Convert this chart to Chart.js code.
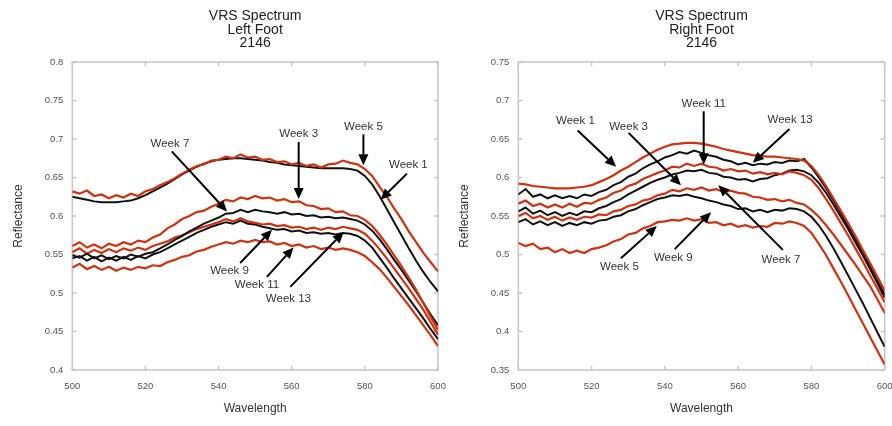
<!DOCTYPE html>
<html>
<head>
<meta charset="utf-8">
<script src="https://cdn.jsdelivr.net/npm/chart.js@4.4.0/dist/chart.umd.min.js"></script>
<style>
  html, body { margin: 0; padding: 0; background: #fff; }
  #wrap { position: relative; width: 892px; height: 426px; }
  .panel { position: absolute; top: 0; width: 446px; height: 426px; }
  #left { left: 0; }
  #right { left: 446px; }
</style>
</head>
<body>
<div id="wrap">
  <div class="panel" id="left"><canvas id="leftChart" width="446" height="426"></canvas></div>
  <div class="panel" id="right"><canvas id="rightChart" width="446" height="426"></canvas></div>
</div>
<script>
// wavelength grid (nm), shared by every spectrum
const wavelengths = [500, 502, 504, 506, 508, 510, 512, 514, 516, 518, 520, 522, 524, 526, 528, 530, 532, 534, 536, 538,
  540, 542, 544, 546, 548, 550, 552, 554, 556, 558, 560, 562, 564, 566, 568, 570, 572, 574, 576, 578,
  580, 582, 584, 586, 588, 590, 592, 594, 596, 598, 600];

const xTicks = [500, 520, 540, 560, 580, 600];
const leftYTicks = [0.4, 0.45, 0.5, 0.55, 0.6, 0.65, 0.7, 0.75, 0.8];
const rightYTicks = [0.35, 0.4, 0.45, 0.5, 0.55, 0.6, 0.65, 0.7, 0.75];

// left foot reflectance
const leftWeek1 = [.625, .623, .621, .619, .618, .618, .618, .619, .620, .623, .627, .632, .637, .642, .648, .654, .659, .664, .668, .671,
  .673, .674, .675, .675, .674, .673, .672, .670, .669, .667, .666, .665, .664, .663, .662, .662, .662, .662, .661, .659,
  .652, .641, .626, .609, .592, .575, .558, .542, .527, .514, .502];
const leftWeek5 = [.632, .629, .633, .626, .628, .623, .627, .624, .629, .626, .632, .635, .640, .644, .649, .655, .660, .665, .667, .672,
  .673, .677, .675, .680, .676, .677, .673, .674, .670, .671, .667, .669, .665, .667, .663, .667, .668, .672, .669, .667,
  .661, .652, .638, .625, .610, .596, .580, .566, .552, .540, .528];
const leftWeek3 = [.561, .566, .559, .563, .558, .564, .561, .566, .563, .568, .566, .572, .576, .584, .589, .596, .600, .605, .607, .612,
  .616, .621, .619, .624, .622, .626, .623, .624, .620, .622, .618, .619, .614, .613, .609, .610, .605, .606, .601, .600,
  .595, .587, .576, .563, .549, .535, .520, .504, .487, .469, .452];
const leftWeek7 = [.549, .546, .551, .545, .549, .544, .548, .545, .550, .547, .551, .553, .558, .563, .569, .574, .580, .585, .590, .594,
  .598, .603, .604, .608, .605, .608, .606, .605, .603, .605, .602, .603, .600, .601, .598, .599, .597, .598, .596, .594,
  .589, .581, .570, .557, .543, .530, .516, .502, .487, .472, .458];
const leftWeek9 = [.545, .548, .542, .547, .541, .546, .542, .547, .543, .548, .545, .550, .553, .558, .563, .568, .573, .578, .582, .586,
  .589, .592, .590, .594, .590, .589, .586, .584, .582, .583, .580, .581, .578, .579, .577, .578, .576, .578, .577, .574,
  .568, .559, .546, .533, .519, .506, .493, .480, .467, .453, .440];
const leftWeek13 = [.553, .558, .551, .556, .552, .557, .553, .558, .555, .559, .556, .561, .564, .567, .572, .575, .579, .583, .586, .589,
  .592, .596, .593, .597, .593, .591, .589, .590, .587, .588, .585, .586, .583, .585, .582, .585, .583, .586, .584, .582,
  .577, .568, .557, .545, .532, .519, .506, .492, .478, .462, .446];
const leftWeek11 = [.533, .538, .531, .535, .530, .534, .529, .533, .530, .534, .532, .536, .535, .540, .543, .547, .549, .554, .556, .560,
  .563, .566, .564, .568, .566, .569, .566, .567, .563, .565, .561, .563, .559, .561, .557, .559, .556, .558, .556, .553,
  .548, .540, .531, .520, .508, .496, .484, .471, .458, .445, .431];

// right foot reflectance
const rightWeek1 = [.592, .591, .589, .588, .587, .586, .586, .586, .587, .588, .590, .594, .598, .603, .609, .614, .620, .626, .631, .636,
  .640, .643, .644, .645, .645, .644, .642, .640, .637, .635, .633, .631, .629, .628, .627, .627, .626, .625, .624, .622,
  .615, .603, .589, .573, .557, .541, .524, .506, .489, .471, .453];
const rightWeek13 = [.578, .585, .575, .578, .573, .577, .573, .576, .573, .578, .576, .581, .584, .590, .594, .601, .605, .612, .617, .621,
  .626, .629, .633, .631, .635, .632, .629, .627, .623, .621, .617, .619, .616, .618, .617, .620, .619, .622, .621, .624,
  .613, .600, .586, .570, .554, .537, .520, .503, .484, .466, .448];
const rightWeek11 = [.566, .570, .563, .566, .561, .565, .561, .566, .562, .567, .566, .571, .574, .580, .583, .589, .592, .598, .602, .606,
  .609, .614, .613, .618, .615, .618, .614, .613, .609, .611, .608, .609, .605, .607, .604, .606, .604, .608, .606, .603,
  .597, .586, .572, .557, .541, .525, .508, .491, .473, .456, .438];
const rightWeek7 = [.556, .561, .553, .557, .551, .555, .550, .554, .551, .556, .555, .560, .563, .568, .572, .578, .583, .588, .593, .597,
  .600, .604, .606, .609, .608, .610, .606, .605, .601, .600, .597, .598, .595, .598, .599, .603, .605, .609, .610, .608,
  .603, .593, .580, .565, .549, .533, .516, .499, .481, .463, .444];
const rightWeek3 = [.550, .554, .547, .550, .545, .549, .544, .548, .545, .549, .548, .552, .551, .556, .558, .563, .565, .570, .572, .577,
  .579, .584, .582, .586, .584, .587, .583, .585, .581, .583, .580, .579, .575, .574, .571, .572, .569, .571, .567, .565,
  .558, .549, .538, .526, .513, .500, .487, .473, .459, .442, .424];
const rightWeek9 = [.542, .546, .539, .543, .538, .542, .537, .541, .538, .542, .540, .544, .545, .549, .551, .556, .559, .564, .568, .572,
  .574, .577, .576, .578, .575, .573, .570, .568, .565, .563, .559, .560, .556, .558, .555, .558, .557, .560, .559, .556,
  .549, .538, .524, .508, .491, .473, .455, .437, .418, .399, .380];
const rightWeek5 = [.515, .511, .514, .507, .509, .503, .507, .502, .505, .502, .507, .509, .512, .517, .520, .526, .528, .534, .537, .542,
  .543, .545, .544, .547, .544, .546, .541, .542, .538, .540, .536, .538, .535, .537, .536, .541, .540, .543, .541, .537,
  .528, .514, .499, .482, .465, .447, .429, .411, .393, .375, .357];

// week callouts: label centre, arrow tail, arrow tip (data units)
const leftNotes = [
  { text: 'Week 7', at: [526.7, 0.694], from: [527.2, 0.684], to: [542.3, 0.606] },
  { text: 'Week 3', at: [561.9, 0.707], from: [561.9, 0.696], to: [561.9, 0.622] },
  { text: 'Week 5', at: [579.6, 0.716], from: [579.6, 0.706], to: [579.6, 0.666] },
  { text: 'Week 1', at: [591.9, 0.667], from: [591.5, 0.655], to: [584.3, 0.621] },
  { text: 'Week 9', at: [543.0, 0.529], from: [545.9, 0.539], to: [554.6, 0.582] },
  { text: 'Week 11', at: [550.5, 0.511], from: [553.2, 0.521], to: [560.5, 0.559] },
  { text: 'Week 13', at: [559.1, 0.493], from: [559.6, 0.508], to: [574.2, 0.579] }
];
const rightNotes = [
  { text: 'Week 1', at: [515.6, 0.673], from: [516.2, 0.661], to: [526.7, 0.614] },
  { text: 'Week 3', at: [530.1, 0.666], from: [530.1, 0.658], to: [544.4, 0.590] },
  { text: 'Week 11', at: [550.6, 0.696], from: [550.6, 0.686], to: [550.6, 0.617] },
  { text: 'Week 13', at: [574.2, 0.675], from: [574.0, 0.663], to: [564.0, 0.619] },
  { text: 'Week 5', at: [527.6, 0.484], from: [528.0, 0.495], to: [537.8, 0.537] },
  { text: 'Week 9', at: [542.3, 0.496], from: [542.7, 0.507], to: [552.6, 0.555] },
  { text: 'Week 7', at: [571.7, 0.493], from: [572.2, 0.506], to: [554.6, 0.590] }
];

const RED = '#d2300e';
const BLACK = '#111111';
const FONT = '"Liberation Sans", Arial, Helvetica, sans-serif';

function series(values, color) {
  return {
    data: values.map((v, i) => ({ x: wavelengths[i], y: v })),
    borderColor: color,
    borderWidth: color === RED ? 2.2 : 2,
    pointRadius: 0,
    tension: 0,
    fill: false
  };
}

// grey box round the plot with short inward ticks on all four sides
const framePlugin = {
  id: 'frame',
  beforeDatasetsDraw(chart) {
    const { ctx, chartArea: a, scales: { x, y } } = chart;
    ctx.save();
    ctx.strokeStyle = '#c6c6c6';
    ctx.lineWidth = 1.5;
    ctx.strokeRect(a.left, a.top, a.right - a.left, a.bottom - a.top);
    ctx.beginPath();
    x.ticks.forEach(t => {
      const px = x.getPixelForValue(t.value);
      ctx.moveTo(px, a.top); ctx.lineTo(px, a.top + 4);
      ctx.moveTo(px, a.bottom); ctx.lineTo(px, a.bottom - 4);
    });
    y.ticks.forEach(t => {
      const py = y.getPixelForValue(t.value);
      ctx.moveTo(a.left, py); ctx.lineTo(a.left + 4, py);
      ctx.moveTo(a.right, py); ctx.lineTo(a.right - 4, py);
    });
    ctx.stroke();
    ctx.restore();
  }
};

// three-line heading centred over the plot
const headingPlugin = {
  id: 'heading',
  afterDraw(chart, args, opts) {
    const { ctx, chartArea: a } = chart;
    const cx = (a.left + a.right) / 2;
    ctx.save();
    ctx.fillStyle = '#222';
    ctx.font = '14px ' + FONT;
    ctx.textAlign = 'center';
    ctx.textBaseline = 'middle';
    opts.lines.forEach((line, i) => ctx.fillText(line, cx, 16 + i * 13.8));
    ctx.restore();
  }
};

// "Week n" labels with arrows pointing at their curves
const calloutPlugin = {
  id: 'callouts',
  afterDatasetsDraw(chart, args, opts) {
    const { ctx, scales: { x, y } } = chart;
    ctx.save();
    opts.notes.forEach(n => {
      const x0 = x.getPixelForValue(n.from[0]), y0 = y.getPixelForValue(n.from[1]);
      const x1 = x.getPixelForValue(n.to[0]), y1 = y.getPixelForValue(n.to[1]);
      const ang = Math.atan2(y1 - y0, x1 - x0);
      const head = 11, half = 5;
      const bx = x1 - head * Math.cos(ang), by = y1 - head * Math.sin(ang);
      ctx.strokeStyle = '#000';
      ctx.fillStyle = '#000';
      ctx.lineWidth = 2;
      ctx.beginPath();
      ctx.moveTo(x0, y0);
      ctx.lineTo(bx, by);
      ctx.stroke();
      ctx.beginPath();
      ctx.moveTo(x1, y1);
      ctx.lineTo(bx + half * Math.sin(ang), by - half * Math.cos(ang));
      ctx.lineTo(bx - half * Math.sin(ang), by + half * Math.cos(ang));
      ctx.closePath();
      ctx.fill();
      ctx.fillStyle = '#333';
      ctx.font = '11.5px ' + FONT;
      ctx.textAlign = 'center';
      ctx.textBaseline = 'middle';
      ctx.fillText(n.text, x.getPixelForValue(n.at[0]), y.getPixelForValue(n.at[1]));
    });
    ctx.restore();
  }
};

function makeChart(canvasId, datasets, yTicks, heading, notes, padRight) {
  return new Chart(document.getElementById(canvasId), {
    type: 'line',
    data: { datasets: datasets },
    plugins: [framePlugin, headingPlugin, calloutPlugin],
    options: {
      responsive: false,
      animation: false,
      events: [],
      layout: { padding: { top: 62, right: padRight, left: 0, bottom: 0 } },
      plugins: {
        legend: { display: false },
        tooltip: { enabled: false },
        heading: { lines: heading },
        callouts: { notes: notes }
      },
      scales: {
        x: {
          type: 'linear',
          min: xTicks[0],
          max: xTicks[xTicks.length - 1],
          afterBuildTicks: s => { s.ticks = xTicks.map(v => ({ value: v })); },
          afterFit: s => { s.height = 56; s.paddingLeft = 0; s.paddingRight = 0; },
          grid: { display: false, drawTicks: false },
          border: { display: false },
          ticks: { padding: 11, color: '#555', font: { family: FONT, size: 9.5 } },
          title: { display: true, text: 'Wavelength', color: '#333', font: { family: FONT, size: 12 }, padding: { top: 0, bottom: 10 } }
        },
        y: {
          type: 'linear',
          min: yTicks[0],
          max: yTicks[yTicks.length - 1],
          afterBuildTicks: s => { s.ticks = yTicks.map(v => ({ value: v })); },
          afterFit: s => { s.width = 72.3; s.paddingTop = 0; s.paddingBottom = 0; },
          grid: { display: false, drawTicks: false },
          border: { display: false },
          ticks: { padding: 9, color: '#555', font: { family: FONT, size: 9.5 }, callback: v => String(+v.toFixed(2)) },
          title: { display: true, text: 'Reflectance', color: '#333', font: { family: FONT, size: 12 }, padding: { top: 11, bottom: 0 } }
        }
      }
    }
  });
}

makeChart('leftChart', [
  series(leftWeek5, RED),
  series(leftWeek1, BLACK),
  series(leftWeek3, RED),
  series(leftWeek7, BLACK),
  series(leftWeek13, RED),
  series(leftWeek9, BLACK),
  series(leftWeek11, RED)
], leftYTicks, ['VRS Spectrum', 'Left Foot', '2146'], leftNotes, 8);

makeChart('rightChart', [
  series(rightWeek1, RED),
  series(rightWeek13, BLACK),
  series(rightWeek11, RED),
  series(rightWeek7, BLACK),
  series(rightWeek3, RED),
  series(rightWeek9, BLACK),
  series(rightWeek5, RED)
], rightYTicks, ['VRS Spectrum', 'Right Foot', '2146'], rightNotes, 7.3);
</script>
</body>
</html>
